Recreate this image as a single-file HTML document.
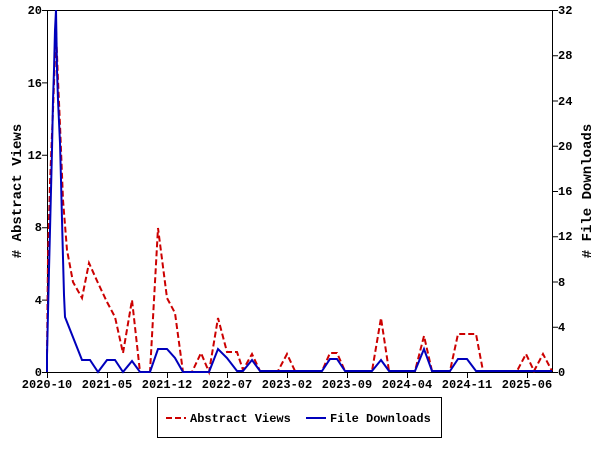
<!DOCTYPE html><html><head><style>body{margin:0;background:#fff}svg text{font-family:"Liberation Mono",monospace;font-weight:bold}</style></head><body>
<svg width="600" height="450" xmlns="http://www.w3.org/2000/svg">
<rect width="600" height="450" fill="#fff"/>
<g stroke="#000" stroke-width="1" fill="none">
<line x1="47.5" y1="10" x2="47.5" y2="372"/>
<line x1="552.5" y1="10" x2="552.5" y2="372"/>
<line x1="47" y1="372.5" x2="553" y2="372.5"/>
<line x1="47" y1="10.5" x2="553" y2="10.5"/>
</g>
<g stroke="#000">
<path d="M42 372.5h6M42 300.1h6M42 227.7h6M42 155.3h6M42 82.9h6M42 10.5h6"/>
<path d="M552 372.5h6M552 327.2h6M552 282h6M552 236.7h6M552 191.5h6M552 146.2h6M552 101h6M552 55.7h6M552 10.5h6"/>
<path d="M47.5 372v6M107.5 372v6M167.5 372v6M227.5 372v6M287.5 372v6M347.5 372v6M407.5 372v6M467.5 372v6M527.5 372v6"/>
</g>
<g font-size="12" fill="#000" text-anchor="end">
<text x="42" y="376">0</text><text x="42" y="304">4</text><text x="42" y="231">8</text><text x="42" y="159">12</text><text x="42" y="87">16</text><text x="42" y="14">20</text>
</g>
<g font-size="12" fill="#000" text-anchor="start">
<text x="558" y="376">0</text><text x="558" y="331">4</text><text x="558" y="286">8</text><text x="558" y="240">12</text><text x="558" y="195">16</text><text x="558" y="150">20</text><text x="558" y="105">24</text><text x="558" y="59">28</text><text x="558" y="14">32</text>
</g>
<g font-size="12" fill="#000" text-anchor="middle">
<text x="47" y="388">2020-10</text><text x="107" y="388">2021-05</text><text x="167" y="388">2021-12</text><text x="227" y="388">2022-07</text><text x="287" y="388">2023-02</text><text x="347" y="388">2023-09</text><text x="407" y="388">2024-04</text><text x="467" y="388">2024-11</text><text x="527" y="388">2025-06</text>
</g>
<text font-size="14" transform="translate(21,191) rotate(-90)" text-anchor="middle">#&#160;Abstract Views</text>
<text font-size="14" transform="translate(591,191) rotate(-90)" text-anchor="middle">#&#160;File Downloads</text>
<polyline fill="none" stroke="#cc0000" stroke-width="2" stroke-dasharray="6,3" points="47,355 48,258 50,183 53,110 56,30 58,80 60,125 63,200 67,250 73,282 82,298 89,263 98,283 107,302 115,317 123,353 132,300 140,372 150,372 158,228 167,298 175,313 183,372 192,372 201,353 209,372 218,318 227,352 237,352 243,370 252,354 260,371 278,371 287,354 295,371 322,371 330,353 337,353 345,371 372,371 381,318 389,371 415,371 424,336 432,371 450,371 458,334 476,334 483,371 517,371 526,354 534,371 543,354 552,371"/>
<polyline fill="none" stroke="#0000bb" stroke-width="2" points="47,372 47,355 48,313 49,270 50,230 52,150 53,100 54,70 55,30 56,10 57,70 58,100 60,143 61,180 62,220 63,258 64,295 65,317 82,360 90,360 98,372 107,360 115,360 123,372 132,361 140,372 150,372 158,349 167,349 175,358 183,372 209,372 218,349 227,358 237,371 243,371 252,360 260,371 322,371 330,359 337,359 345,371 372,371 381,360 389,371 415,371 424,349 432,371 450,371 458,359 467,359 476,371 552,371"/>
<rect x="157.5" y="397.5" width="284" height="40" fill="#fff" stroke="#000"/>
<line x1="166" y1="418" x2="186" y2="418" stroke="#cc0000" stroke-width="2" stroke-dasharray="6,3"/>
<text x="190" y="422" font-size="12">Abstract Views</text>
<line x1="306" y1="418" x2="326" y2="418" stroke="#0000bb" stroke-width="2"/>
<text x="330" y="422" font-size="12">File Downloads</text>
</svg>
</body></html>
